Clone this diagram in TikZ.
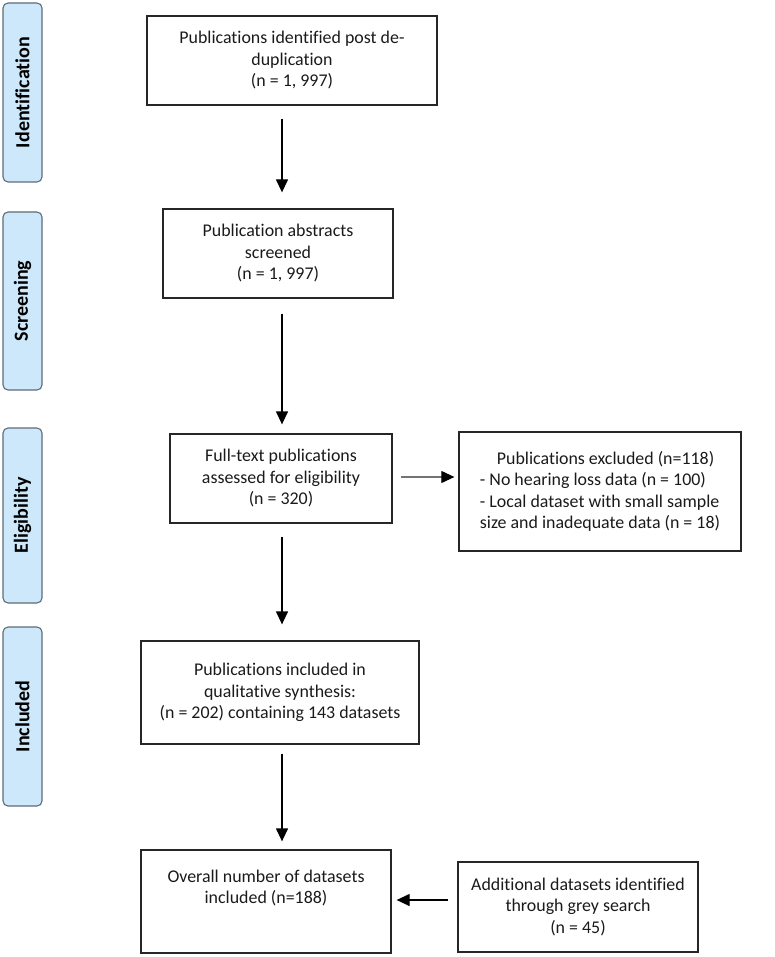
\documentclass[tikz,border=0pt]{standalone}
\usepackage{fontspec}
\setmainfont{Carlito}[Ligatures=NoCommon,RawFeature=-liga]
\usetikzlibrary{arrows.meta}
\definecolor{barfill}{HTML}{CDE8FA}
\definecolor{barline}{HTML}{5F6B78}
\definecolor{txt}{HTML}{1A1A1A}
\tikzset{
  flowbox/.style={draw=black!85, line width=1.3pt, align=center, inner sep=0pt,
    font=\fontsize{17.9}{21.5}\selectfont, text=txt},
  phasebar/.style={draw=barline, fill=barfill, line width=1.1pt, rounded corners=5pt,
    minimum width=39pt, inner sep=0pt},
  phaselabel/.style={rotate=90, font=\fontsize{20}{24}\selectfont\bfseries, text=black},
  flowarrow/.style={draw=black, line width=1.3pt, -{Triangle[length=13pt,width=12pt]}},
}
\begin{document}
\begin{tikzpicture}[x=1pt,y=-1pt]
\useasboundingbox (0,0) rectangle (775,957);
% phase bars
\node[phasebar, minimum height=179pt] (pid) at (22.5,92.5) {};
\node[phaselabel] (lid) at (pid.center) {Identification};
\node[phasebar, minimum height=178pt] (psc) at (22.5,301) {};
\node[phaselabel] (lsc) at (psc.center) {Screening};
\node[phasebar, minimum height=175pt] (pel) at (22.5,515.5) {};
\node[phaselabel] (lel) at (pel.center) {Eligibility};
\node[phasebar, minimum height=179pt] (pin) at (22.5,716.5) {};
\node[phaselabel] (lin) at (pin.center) {Included};
% boxes
\node[flowbox, minimum width=290pt, minimum height=89pt] (b1) at (292,60.5)
  {Publications identified post de-\\duplication\\(n = 1, 997)};
\node[flowbox, minimum width=230pt, minimum height=89pt] (b2) at (278,253.5)
  {Publication abstracts\\screened\\(n = 1, 997)};
\node[flowbox, minimum width=222pt, minimum height=89pt] (b3) at (281,478.5)
  {Full-text publications\\assessed for eligibility\\(n = 320)};
\node[flowbox, minimum width=282pt, minimum height=119pt, align=left] (ex) at (600,491.5)
  {\hspace*{17pt}Publications excluded (n=118)\\- No hearing loss data (n = 100)\\- Local dataset with small sample\\size and inadequate data (n = 18)};
\node[flowbox, minimum width=278pt, minimum height=103pt] (b4) at (280,692.5)
  {Publications included in\\qualitative synthesis:\\(n = 202) containing 143 datasets};
\node[flowbox, minimum width=250pt, minimum height=103pt] (b5) at (266,901.5)
  {Overall number of datasets\\included (n=188)\\[8pt]\mbox{}};
\node[flowbox, minimum width=240pt, minimum height=90pt] (ad) at (578,907)
  {Additional datasets identified\\through grey search\\(n = 45)};
% connector columns
\coordinate (col) at (282,0);
\coordinate (rowex) at (0,477);
\coordinate (rowad) at (0,900);
\draw[flowarrow, shorten <=13pt, shorten >=16pt] (b1.south -| col) -- (b2.north -| col);
\draw[flowarrow, shorten <=15pt, shorten >=9pt] (b2.south -| col) -- (b3.north -| col);
\draw[flowarrow, shorten <=13pt, shorten >=16pt] (b3.south -| col) -- (b4.north -| col);
\draw[flowarrow, shorten <=9pt, shorten >=8pt] (b4.south -| col) -- (b5.north -| col);
\draw[line width=1.1pt, draw=black!55, -{Triangle[length=13pt,width=12pt,color=black]}, shorten <=8pt, shorten >=4pt]
  (b3.east |- rowex) -- (ex.west |- rowex);
\draw[flowarrow, shorten <=9pt, shorten >=5pt] (ad.west |- rowad) -- (b5.east |- rowad);
\end{tikzpicture}
\end{document}
